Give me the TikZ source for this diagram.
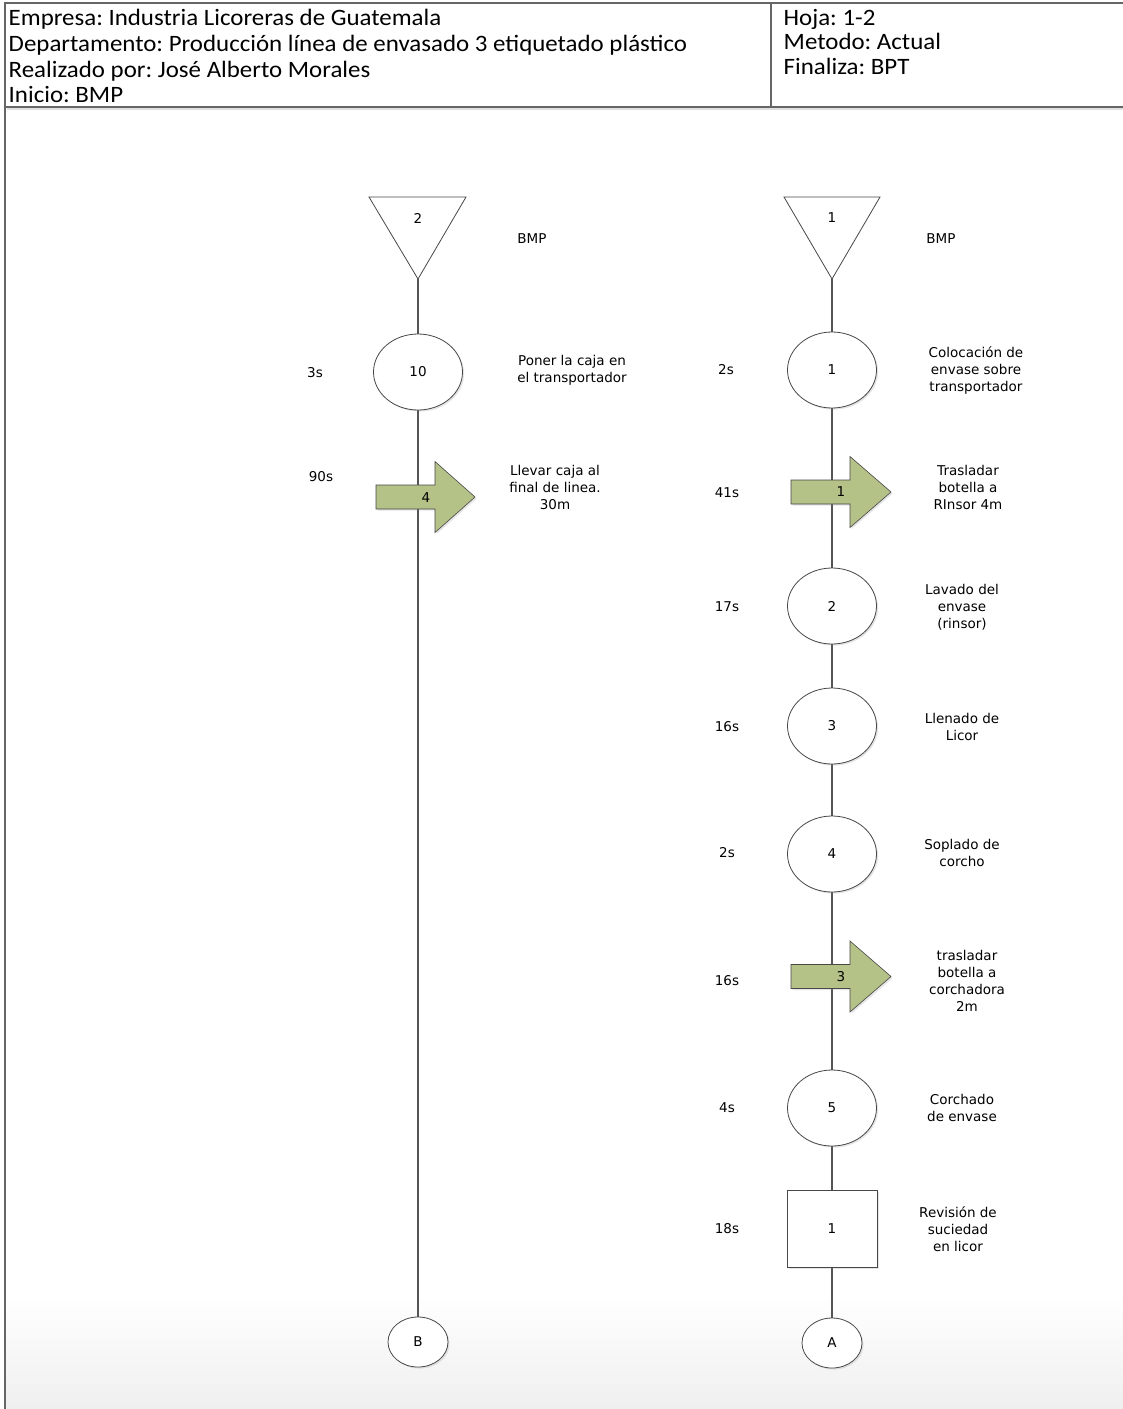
\documentclass[tikz,border=0pt]{standalone}
\usepackage{fontspec}
\setmainfont{DejaVu Sans}
\newfontfamily\encabezado[FakeStretch=1.06]{Carlito}
\usepackage{tikz}
\usetikzlibrary{shapes.geometric}
\usetikzlibrary{backgrounds}
\usetikzlibrary{shadows}
\usepackage{xcolor}
\definecolor{flechaverde}{HTML}{B4C187}
\definecolor{lineagris}{HTML}{555555}
\definecolor{bordegris}{HTML}{474747}
\definecolor{marcogris}{HTML}{666666}
\definecolor{fondogris}{HTML}{EFEFEF}
\frenchspacing

\tikzset{
  sombra/.style={drop shadow={shadow xshift=1.6pt, shadow yshift=-1.6pt, opacity=0.22, fill=black!45}},
  operacion/.style={ellipse, draw=bordegris, fill=white, line width=0.8pt, minimum width=89pt, minimum height=76pt, inner sep=0pt, font=\fontsize{13.5}{17}\selectfont, sombra},
  inspeccion/.style={rectangle, draw=bordegris, fill=white, line width=0.8pt, minimum width=90pt, minimum height=77pt, inner sep=0pt, font=\fontsize{13.5}{17}\selectfont, sombra},
  conector/.style={ellipse, draw=bordegris, fill=white, line width=0.8pt, minimum width=60pt, minimum height=50pt, inner sep=0pt, font=\fontsize{13.5}{17}\selectfont, sombra},
  almacen/.style={draw=bordegris, fill=white, line width=0.8pt, line join=miter},
  flecha/.style={draw=bordegris, fill=flechaverde, line width=0.6pt, sombra},
  flujo/.style={draw=lineagris, line width=1.8pt},
  marco/.style={draw=marcogris, line width=1.5pt},
  cabecera/.style={anchor=base west, inner sep=0pt, font=\encabezado\fontsize{23.5}{26}\selectfont},
  texto/.style={inner sep=0pt, align=center, font=\fontsize{13.5}{17}\selectfont},
  numero/.style={inner sep=0pt, font=\fontsize{13.5}{17}\selectfont}
}

\begin{document}
\begin{tikzpicture}[x=1pt, y=-1pt]
		\useasboundingbox (0,0) rectangle (1123,1409);
		% encabezado
		\draw[marco] (5,1409) -- (5,3) -- (1123,3);
		\draw[marco] (5,107) -- (1123,107);
		\draw[marco] (771,3) -- (771,107);
		\draw[black!12, line width=1.2pt] (7,109) -- (1123,109);
		\node[cabecera] (empresa) at (8.5,25.3) {Empresa: Industria Licoreras de Guatemala};
		\node[cabecera] (depto) at (8.5,51.5) {Departamento: Producción línea de envasado 3 etiquetado plástico};
		\node[cabecera] (autor) at (8.5,77.3) {Realizado por: José Alberto Morales};
		\node[cabecera] (inicio) at (8.5,102.3) {Inicio: BMP};
		\node[cabecera] (hoja) at (783.5,25) {Hoja: 1-2};
		\node[cabecera] (metodo) at (783.5,49.5) {Metodo: Actual};
		\node[cabecera] (finaliza) at (783.5,74) {Finaliza: BPT};
		%
		% columna izquierda
		\draw[almacen] (369,197) -- (466,197) -- (418,279) -- cycle;
		\node[numero] (alm2) at (418,218) {2};
		\coordinate (alm2v) at (418,279);
		\node[texto] (bmp2) at (532,239) {BMP};
		\node[operacion] (op10) at (418,372) {10};
		\node[texto] (t10) at (315,373) {3s};
		\node[texto] (d10) at (572,370) {Poner la caja en\\el transportador};
		\draw[flecha, shift={(376,497)}] (0,-12) -- (59,-12) -- (59,-35.5) -- (99,0) -- (59,35.5) -- (59,12) -- (0,12) -- cycle;
		\node[numero] (tr4) at (426,498) {4};
		\node[texto] (ttr4) at (321,477) {90s};
		\node[texto] (dtr4) at (555,487) {Llevar caja al\\final de linea.\\30m};
		\node[conector] (conB) at (418,1342) {B};
		%
		% columna derecha
		\draw[almacen] (784,197) -- (880,197) -- (832,279) -- cycle;
		\node[numero] (alm1) at (832,218) {1};
		\coordinate (alm1v) at (832,279);
		\node[texto] (bmp1) at (941,239) {BMP};
		\node[operacion] (op1) at (832,370) {1};
		\node[texto] (t1) at (726,370) {2s};
		\node[texto] (d1) at (976,370) {Colocación de\\envase sobre\\transportador};
		\draw[flecha, shift={(791,492)}] (0,-12) -- (59,-12) -- (59,-35.5) -- (100,0) -- (59,35.5) -- (59,12) -- (0,12) -- cycle;
		\node[numero] (tr1) at (841,492) {1};
		\node[texto] (ttr1) at (727,493) {41s};
		\node[texto] (dtr1) at (968,487) {Trasladar\\botella a\\RInsor 4m};
		\node[operacion] (op2) at (832,606) {2};
		\node[texto] (t2) at (727,607) {17s};
		\node[texto] (d2) at (962,607) {Lavado del\\envase\\(rinsor)};
		\node[operacion] (op3) at (832,726) {3};
		\node[texto] (t3) at (727,727) {16s};
		\node[texto] (d3) at (962,727) {Llenado de\\Licor};
		\node[operacion] (op4) at (832,854) {4};
		\node[texto] (t4) at (727,853) {2s};
		\node[texto] (d4) at (962,853) {Soplado de\\corcho};
		\draw[flecha, shift={(791,976.5)}] (0,-12) -- (59,-12) -- (59,-35.5) -- (100,0) -- (59,35.5) -- (59,12) -- (0,12) -- cycle;
		\node[numero] (tr3) at (841,977) {3};
		\node[texto] (ttr3) at (727,981) {16s};
		\node[texto] (dtr3) at (967,980.5) {trasladar\\botella a\\corchadora\\2m};
		\node[operacion] (op5) at (832,1108) {5};
		\node[texto] (t5) at (727,1108) {4s};
		\node[texto] (d5) at (962,1108) {Corchado\\de envase};
		\node[inspeccion] (ins1) at (832,1228.5) {1};
		\node[texto] (ti1) at (727,1229) {18s};
		\node[texto] (di1) at (958,1229) {Revisión de\\suciedad\\en licor};
		\node[conector] (conA) at (832,1343) {A};
		%
		\begin{scope}[on background layer]
			\fill[white] (0,0) rectangle (1123,1409);
			\shade[top color=white, bottom color=fondogris] (6,1295) rectangle (1123,1409);
			\draw[flujo] (alm2v) -- (op10.north);
			\draw[flujo] (op10.south) -- (conB.north);
			\draw[flujo] (alm1v) -- (op1.north);
			\draw[flujo] (op1.south) -- (op2.north);
			\draw[flujo] (op2.south) -- (op3.north);
			\draw[flujo] (op3.south) -- (op4.north);
			\draw[flujo] (op4.south) -- (op5.north);
			\draw[flujo] (op5.south) -- (ins1.north);
			\draw[flujo] (ins1.south) -- (conA.north);
		\end{scope}
	\end{tikzpicture}
\end{document}
